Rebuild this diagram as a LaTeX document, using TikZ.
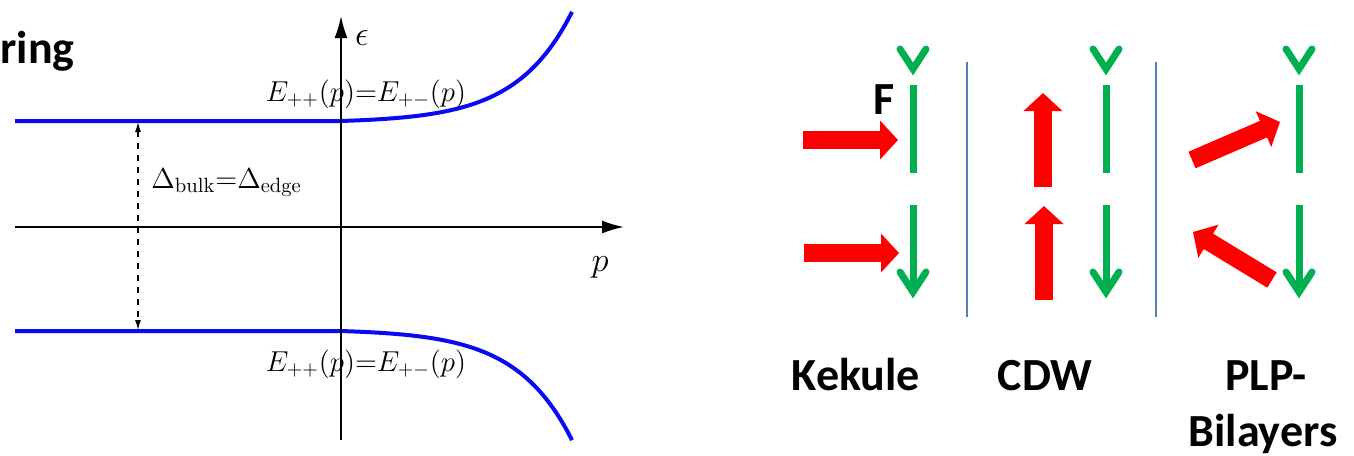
\documentclass[tikz,border=0pt]{standalone}
\usepackage{amsmath}
\usepackage{fontspec}
\newfontfamily\calibri{Carlito}
\usetikzlibrary{arrows.meta}
\definecolor{bandblue}{RGB}{10,10,240}
\definecolor{spingreen}{RGB}{0,176,80}
\definecolor{sepblue}{RGB}{79,129,189}
\definecolor{fieldred}{RGB}{255,0,0}

\tikzset{
  band/.style={bandblue, line width=2pt},
  axis/.style={line width=0.9pt, -{Latex[length=11pt,width=6.5pt]}},
  chev/.style={spingreen, line width=3.5pt, line cap=round, line join=miter},
  bar/.style={spingreen, line width=3.5pt},
  field/.style={fieldred, line width=9pt, -{Triangle[length=9pt,width=19pt]}},
  sep/.style={sepblue, line width=1pt},
  lbl/.style={font=\calibri\bfseries\fontsize{23}{28}\selectfont, inner sep=0pt, anchor=base},
  eqn/.style={font=\fontsize{14.7}{17}\selectfont, inner sep=0pt, anchor=base},
}

\begin{document}
\begin{tikzpicture}[x=0.5pt, y=-0.5pt]
  \useasboundingbox (0,0) rectangle (1354,455);

  % dispersion of the two bands
  \node[lbl, anchor=base west] (ring) at (0,63) {ring};
  \draw[band] (15,121) -- (340,121)
    -- plot[domain=340:572, samples=60] (\x, {121-1.7*(exp(0.018*(\x-340))-1)});
  \draw[band] (15,331) -- (340,331)
    -- plot[domain=340:572, samples=60] (\x, {331+1.7*(exp(0.018*(\x-340))-1)});

  \coordinate (pl) at (15,227);
  \coordinate (pr) at (624,227);
  \coordinate (eb) at (341,440);
  \coordinate (et) at (341,16);
  \draw[axis] (pl) -- (pr);
  \draw[axis] (eb) -- (et);
  \node[eqn, font=\fontsize{17}{19}\selectfont] (eps) at (362,46) {$\epsilon$};
  \node[eqn, font=\fontsize{18}{20}\selectfont] (pp) at (600,271) {$p$};

  \node[eqn] (eup) at (366,101) {$E_{++}(p){=}E_{+-}(p)$};
  \node[eqn] (edn) at (366,371) {$E_{++}(p){=}E_{+-}(p)$};

  \coordinate (gt) at (138,122);
  \coordinate (gb) at (138,330);
  \draw[dashed, line width=0.6pt, {Latex[length=5pt,width=3pt]}-{Latex[length=5pt,width=3pt]}] (gt) -- (gb);
  \node[eqn, anchor=base west] (gap) at (151,188) {$\Delta_{\mathrm{bulk}}{=}\Delta_{\mathrm{edge}}$};

  % order parameters
  \draw[sep] (967,62) -- (967,317);
  \draw[sep] (1156,62) -- (1156,317);

  \foreach \c in {913,1106,1299} {
    \draw[chev] (\c-13,49) -- (\c,69) -- (\c+13,49);
    \draw[bar] (\c,85) -- (\c,173);
    \draw[bar] (\c,205) -- (\c,290);
    \draw[chev] (\c-13,272) -- (\c,292) -- (\c+13,272);
  }

  \coordinate (k1t) at (803,140);  \coordinate (k1h) at (898,140);
  \coordinate (k2t) at (804,253);  \coordinate (k2h) at (899,253);
  \coordinate (c1t) at (1043,187); \coordinate (c1h) at (1043,93);
  \coordinate (c2t) at (1044,300); \coordinate (c2h) at (1044,206);
  \coordinate (p1t) at (1192,160); \coordinate (p1h) at (1280,122);
  \coordinate (p2t) at (1272,280); \coordinate (p2h) at (1193,232);
  \draw[field] (k1t) -- (k1h);
  \draw[field] (k2t) -- (k2h);
  \draw[field] (c1t) -- (c1h);
  \draw[field] (c2t) -- (c2h);
  \draw[field] (p1t) -- (p1h);
  \draw[field] (p2t) -- (p2h);

  \node[lbl] (F) at (884,114) {F};
  \node[lbl] (kek) at (856,390) {Kekule};
  \node[lbl] (cdw) at (1045,390) {CDW};
  \node[lbl] (plp) at (1266,390) {PLP-};
  \node[lbl] (bil) at (1263,446) {Bilayers};
\end{tikzpicture}
\end{document}
